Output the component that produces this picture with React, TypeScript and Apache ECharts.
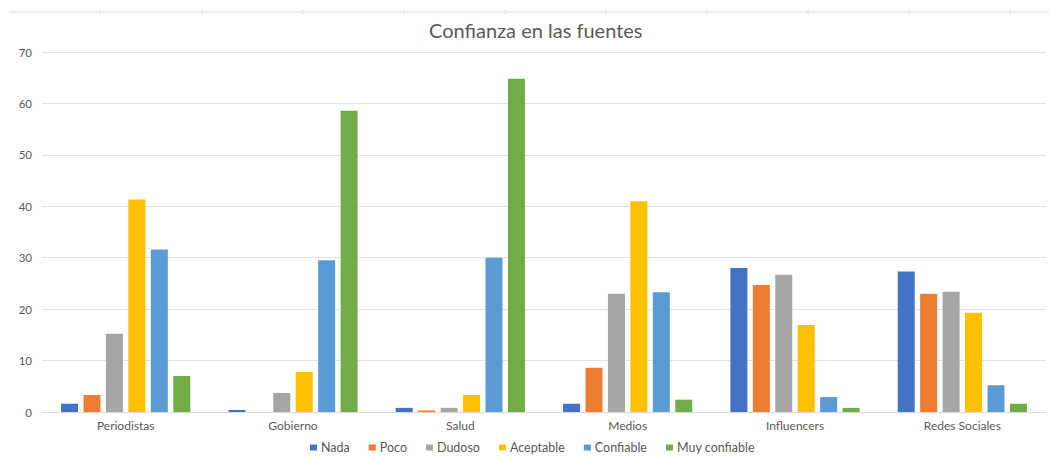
import React, { useEffect, useRef } from "react";
import * as echarts from "echarts";

const categories = ["Periodistas", "Gobierno", "Salud", "Medios", "Influencers", "Redes Sociales"];
const seriesNames = ["Nada", "Poco", "Dudoso", "Aceptable", "Confiable", "Muy confiable"];
const nada = [1.6, 0.4, 0.8, 1.6, 28.0, 27.3];
const poco = [3.3, 0, 0.3, 8.6, 24.7, 23.0];
const dudoso = [15.2, 3.7, 0.8, 23.0, 26.7, 23.4];
const aceptable = [41.3, 7.8, 3.3, 41.0, 16.9, 19.3];
const confiable = [31.6, 29.5, 30.0, 23.3, 2.9, 5.2];
const muyConfiable = [7.0, 58.6, 64.8, 2.4, 0.8, 1.6];
const colors = ["#4472C4", "#ED7D31", "#A5A5A5", "#FFC000", "#5B9BD5", "#70AD47"];
const topTicks = [100, 202, 303, 404, 505, 606, 707, 808, 909, 1010];

export default function App() {
  const ref = useRef<HTMLDivElement>(null);
  useEffect(() => {
    if (!ref.current) return;
    const chart = echarts.init(ref.current, undefined, { renderer: "svg" });
    const values = [nada, poco, dudoso, aceptable, confiable, muyConfiable];
    const font = "Lato, 'Open Sans', sans-serif";
    chart.setOption({
      animation: false,
      backgroundColor: "#ffffff",
      textStyle: { fontFamily: font },
      title: {
        text: "Confianza en las fuentes",
        left: 429,
        top: 20,
        padding: 0,
        textStyle: { fontSize: 20, fontWeight: "normal", color: "#595959", fontFamily: font },
      },
      legend: {
        top: 441,
        left: 310,
        padding: 0,
        itemWidth: 7,
        itemHeight: 6,
        itemGap: 19,
        icon: "rect",
        textStyle: { fontSize: 12.5, color: "#595959", fontFamily: font, padding: [0, 0, 0, -1] },
        data: seriesNames,
      },
      grid: { left: 42, right: 3, top: 52, bottom: 45, containLabel: false },
      xAxis: {
        type: "category",
        data: categories,
        axisLine: { lineStyle: { color: "#d9d9d9" } },
        axisTick: { show: false },
        axisLabel: { color: "#595959", fontSize: 12, margin: 7, fontFamily: font },
      },
      yAxis: {
        type: "value",
        min: 0,
        max: 70,
        interval: 10,
        axisLine: { show: false },
        axisTick: { show: false },
        axisLabel: { color: "#595959", fontSize: 11.5, margin: 10, fontFamily: font },
        splitLine: { lineStyle: { color: "#e3e3e3" } },
      },
      series: seriesNames.map((name, i) => ({
        name,
        type: "bar",
        data: values[i],
        barWidth: 17,
        barGap: "32%",
        itemStyle: { color: colors[i] },
      })),
      graphic: [
        {
          type: "line",
          shape: { x1: 9, y1: 12, x2: 1049, y2: 12 },
          style: { stroke: "#dadada", lineWidth: 1 },
        },
        ...topTicks.map((x) => ({
          type: "line",
          shape: { x1: x, y1: 9, x2: x, y2: 15 },
          style: { stroke: "#e6e6e6", lineWidth: 1 },
        })),
      ],
    });
    return () => chart.dispose();
  }, []);
  return (
    <div
      ref={ref}
      style={{ position: "fixed", left: 0, top: 0, width: 1049, height: 457 }}
    />
  );
}
